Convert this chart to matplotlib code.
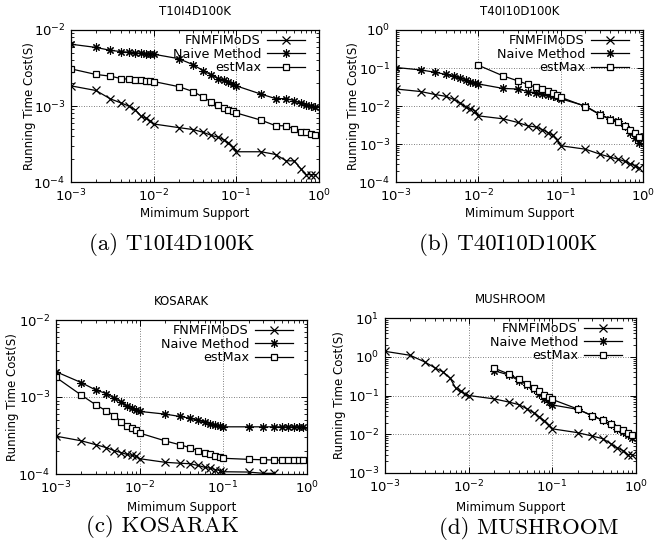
import numpy as np
import matplotlib
matplotlib.use('Agg')
import matplotlib.pyplot as plt
from matplotlib.ticker import LogLocator, NullFormatter

plt.rcParams['font.family'] = 'DejaVu Sans'
plt.rcParams['mathtext.fontset'] = 'dejavusans'

# minimum support values
support = [0.001, 0.002, 0.003, 0.004, 0.005, 0.006, 0.007, 0.008, 0.009,
           0.01, 0.02, 0.03, 0.04, 0.05, 0.06, 0.07, 0.08, 0.09,
           0.1, 0.2, 0.3, 0.4, 0.5, 0.6, 0.7, 0.8, 0.9]

# T10I4D100K (ms)
fnm_a = [1.84, 1.6, 1.24, 1.1, 1.0, 0.89, 0.74, 0.69, 0.64,
         0.58, 0.52, 0.49, 0.45, 0.41, 0.39, 0.36, 0.33, 0.29,
         0.25, 0.25, 0.23, 0.19, 0.19, 0.15, 0.125, 0.125, 0.125]
naive_a = [6.5, 5.9, 5.4, 5.2, 5.1, 5.0, 4.95, 4.9, 4.85,
           4.8, 4.2, 3.5, 2.9, 2.56, 2.3, 2.2, 2.05, 1.95,
           1.84, 1.43, 1.25, 1.25, 1.18, 1.08, 1.04, 1.0, 0.96]
est_a = [3.08, 2.6, 2.47, 2.3, 2.25, 2.2, 2.17, 2.15, 2.13,
         2.1, 1.8, 1.55, 1.3, 1.13, 1.03, 0.95, 0.89, 0.86,
         0.81, 0.65, 0.55, 0.55, 0.5, 0.46, 0.45, 0.43, 0.42]

# T40I10D100K (s)
fnm_b = [0.028, 0.024, 0.020, 0.018, 0.015, 0.012, 0.0094, 0.0085, 0.0075,
         0.0055, 0.0046, 0.0037, 0.0030, 0.0028, 0.0024, 0.0020, 0.0017, 0.0013,
         0.00090, 0.00073, 0.00054, 0.00045, 0.00040, 0.00035, 0.00030, 0.00027, 0.00023]
naive_b = [0.103, 0.089, 0.077, 0.068, 0.061, 0.054, 0.049, 0.044, 0.041,
           0.038, 0.029, 0.028, 0.024, 0.022, 0.021, 0.019, 0.018, 0.017,
           0.0155, 0.010, 0.0060, 0.0046, 0.0040, 0.0029, 0.0020, 0.00144, 0.00107]
est_b = [0.118, 0.062, 0.046, 0.037, 0.031, 0.028, 0.025, 0.022, 0.020,
         0.017, 0.0097, 0.0059, 0.0044, 0.0039, 0.0029, 0.0023, 0.0019, 0.0015]

# KOSARAK (ms)
fnm_c = [0.31, 0.27, 0.24, 0.22, 0.20, 0.19, 0.18, 0.175, 0.17,
         0.158, 0.142, 0.138, 0.136, 0.129, 0.122, 0.119, 0.114, 0.111,
         0.107, 0.106, 0.102, 0.102]
naive_c = [2.13, 1.54, 1.23, 1.11, 0.96, 0.87, 0.76, 0.71, 0.68,
           0.65, 0.60, 0.56, 0.53, 0.50, 0.47, 0.45, 0.43, 0.42,
           0.41, 0.41, 0.41, 0.41, 0.41, 0.41, 0.41, 0.41, 0.41]
est_c = [1.8, 1.06, 0.79, 0.66, 0.57, 0.48, 0.42, 0.39, 0.37,
         0.34, 0.27, 0.24, 0.22, 0.20, 0.19, 0.18, 0.17, 0.165,
         0.16, 0.155, 0.153, 0.152, 0.151, 0.15, 0.15, 0.15, 0.15]

# MUSHROOM (s)
fnm_d = [1.38, 1.09, 0.73, 0.51, 0.40, 0.28, 0.155, 0.127, 0.11,
         0.10, 0.082, 0.068, 0.058, 0.045, 0.036, 0.028, 0.0226, 0.0175,
         0.0138, 0.011, 0.009, 0.0077, 0.0057, 0.0044, 0.0038, 0.0030, 0.0030]
naive_d = [0.44, 0.34, 0.24, 0.19, 0.149, 0.11, 0.082, 0.068,
           0.057, 0.044, 0.030, 0.023, 0.018, 0.0138, 0.0113, 0.0093, 0.0081]
est_d = [0.51, 0.36, 0.26, 0.20, 0.155, 0.127, 0.104, 0.091,
         0.079, 0.045, 0.030, 0.023, 0.018, 0.0144, 0.0125, 0.0107, 0.0093]

W, H = 654, 559
fig = plt.figure(figsize=(W / 100, H / 100), dpi=100)


def panel(px, title, ylim, series, caption, cap_xy, ylab_off, xlab_off):
    left, right, top, bottom = px
    wpx, hpx = right - left, bottom - top
    ax = fig.add_axes([left / W, (H - bottom) / H, wpx / W, hpx / H])
    styles = [dict(marker='x', ms=5.5, mew=0.9),
              dict(marker=(8, 2, 0), ms=6, mew=0.8),
              dict(marker='s', ms=5, mew=0.9, mfc='white')]
    names = ['FNMFIMoDS', 'Naive Method', 'estMax']
    for (xs, ys), st, nm in zip(series, styles, names):
        ax.plot(xs, ys, color='black', lw=0.9, mec='black', label=nm, **st)
    ax.set_xscale('log')
    ax.set_yscale('log')
    ax.set_xlim(1e-3, 1)
    ax.set_ylim(*ylim)
    for axis in (ax.xaxis, ax.yaxis):
        axis.set_major_locator(LogLocator(base=10, numticks=10))
        axis.set_minor_locator(LogLocator(base=10, subs=np.arange(2, 10), numticks=10))
        axis.set_minor_formatter(NullFormatter())
    ax.tick_params(which='both', direction='in', top=True, right=True,
                   labelsize=9.5, color='black')
    ax.tick_params(which='major', length=4, width=0.7, pad=4)
    ax.tick_params(which='minor', length=2.5, width=0.6)
    ax.grid(True, which='major', linestyle=(0, (1, 2)), color='#555555', lw=0.6)
    for sp in ax.spines.values():
        sp.set_linewidth(0.9)
    ax.set_title(title, fontsize=8.5, pad=11)
    ax.set_xlabel('Mimimum Support', fontsize=8.5)
    ax.set_ylabel('Running Time Cost(S)', fontsize=8.5)
    ax.yaxis.set_label_coords(-ylab_off / wpx, 0.5)
    ax.yaxis.label.set_va('center')
    ax.xaxis.set_label_coords(0.5, -xlab_off / hpx)
    ax.xaxis.label.set_va('center')
    ax.legend(loc='upper right', bbox_to_anchor=(1 - 14 / wpx, 1 - 4 / hpx),
              frameon=False, markerfirst=False, fontsize=9.2,
              handlelength=3.0, handletextpad=0.45, labelspacing=0.05,
              borderaxespad=0, borderpad=0)
    fig.text(cap_xy[0] / W, 1 - cap_xy[1] / H, caption, family='cmr10',
             fontsize=16.5, ha='center', va='center')
    return ax


ms = lambda v: [x * 1e-3 for x in v]

panel((71, 319, 30, 182), 'T10I4D100K', (1e-4, 1e-2),
      [(support, ms(fnm_a)), (support, ms(naive_a)), (support, ms(est_a))],
      '(a) T10I4D100K', (172, 245), 41, 31)
panel((396, 643, 30, 182), 'T40I10D100K', (1e-4, 1),
      [(support, fnm_b), (support, naive_b), (support[9:], est_b)],
      '(b) T40I10D100K', (508, 245), 42, 31)
panel((56, 307, 320, 474), 'KOSARAK', (1e-4, 1e-2),
      [(support[:len(fnm_c)], ms(fnm_c)), (support, ms(naive_c)), (support, ms(est_c))],
      '(c) KOSARAK', (162, 527), 43, 33)
panel((385, 636, 318, 473), 'MUSHROOM', (1e-3, 10),
      [(support, fnm_d), (support[10:], naive_d), (support[10:], est_d)],
      '(d) MUSHROOM', (529, 528), 45, 34)

fig.savefig('out.png', dpi=100)
